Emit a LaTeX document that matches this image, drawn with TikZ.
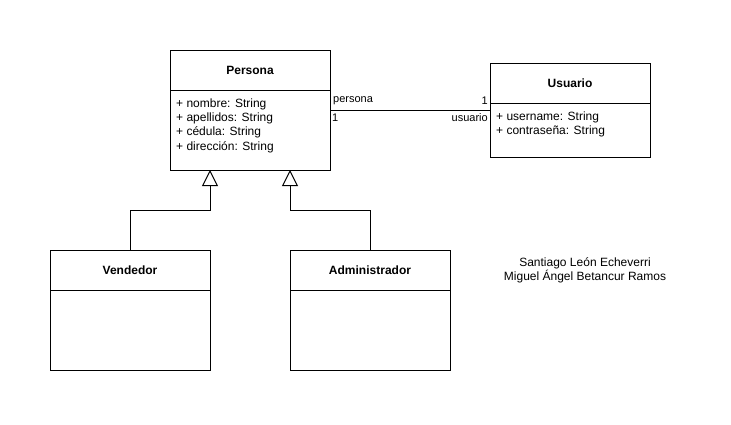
\documentclass[tikz,border=0pt]{standalone}
\usepackage{fontspec}
\setmainfont{Liberation Sans}
\usetikzlibrary{arrows.meta,calc}
\begin{document}
\begin{tikzpicture}[x=1pt,y=-1pt,
  box/.style={draw,line width=1pt,rectangle,anchor=north west,inner sep=0pt,minimum width=160pt},
  ttl/.style={font=\fontsize{12}{14.4}\selectfont\bfseries},
  attr/.style={anchor=west,inner sep=0pt,font=\fontsize{12}{14.4}\selectfont,align=left},
  lbl/.style={inner sep=0pt,font=\fontsize{11}{13}\selectfont},
  conn/.style={line width=1pt},
  gen/.style={line width=1pt,-{Triangle[open,length=16pt,width=16pt,line width=1pt]}}]
\useasboundingbox (0,0) rectangle (731,424);
% Persona
\node[box,minimum height=120pt] (persona) at (170,50) {};
\draw[line width=1pt] (170,90) -- (330,90);
\node[ttl] (personaT) at (250,70) {Persona};
\node[attr] (personaA) at (176,125.5) {+ nombre: String\\+ apellidos: String\\+ cédula: String\\+ dirección: String};
% Usuario
\node[box,minimum height=94pt] (usuario) at (490,63) {};
\draw[line width=1pt] (490,103) -- (650,103);
\node[ttl] (usuarioT) at (570,83) {Usuario};
\node[attr] (usuarioA) at (496,124.5) {+ username: String\\+ contraseña: String};
% Vendedor
\node[box,minimum height=120pt] (vend) at (50,250) {};
\draw[line width=1pt] (50,290) -- (210,290);
\node[ttl] (vendT) at (130,270) {Vendedor};
% Administrador
\node[box,minimum height=120pt] (admin) at (290,250) {};
\draw[line width=1pt] (290,290) -- (450,290);
\node[ttl] (adminT) at (370,270) {Administrador};
% association
\coordinate (aL) at (330,110);
\coordinate (aR) at (490,110);
\draw[conn] (aL) -- (aR);
\node[lbl,anchor=west] (l1) at (333,101) {persona};
\node[lbl,anchor=west] (l2) at (332,118) {1};
\node[lbl,anchor=east] (l3) at (488,101) {1};
\node[lbl,anchor=east] (l4) at (488,118) {usuario};
% generalizations
\coordinate (pv) at (210,170);
\coordinate (pa) at (290,170);
\coordinate (vtop) at (130,250);
\coordinate (atop) at (370,250);
\draw[gen] (vtop) |- (210,210) -- (pv);
\draw[gen] (atop) |- (290,210) -- (pa);
% authors
\node[lbl,align=center,font=\fontsize{12}{14.4}\selectfont] (auth) at (585,270.5) {Santiago León Echeverri\\Miguel Ángel Betancur Ramos};
\end{tikzpicture}
\end{document}
